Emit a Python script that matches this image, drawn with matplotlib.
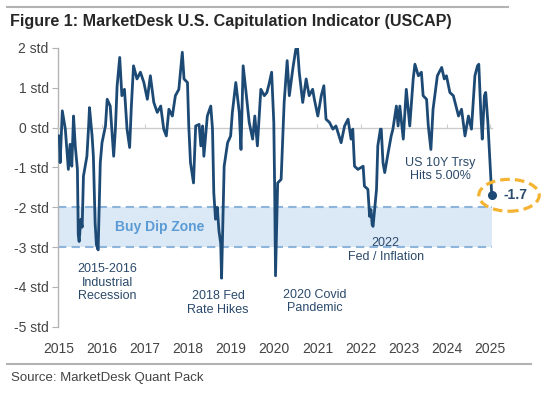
import matplotlib
matplotlib.use("Agg")
import matplotlib.pyplot as plt
from matplotlib.patches import Ellipse
from matplotlib.lines import Line2D

plt.rcParams['font.family'] = ['Liberation Sans', 'DejaVu Sans']

# USCAP readings (decimal year, std)
dates = [
    2015.02, 2015.04, 2015.09, 2015.16, 2015.23, 2015.27, 2015.31, 2015.35, 2015.39, 2015.44,
    2015.46, 2015.48, 2015.52, 2015.55, 2015.58, 2015.66, 2015.70, 2015.72, 2015.78, 2015.81,
    2015.85, 2015.88, 2015.92, 2015.97, 2016.01, 2016.09, 2016.13, 2016.20, 2016.28, 2016.32,
    2016.36, 2016.42, 2016.47, 2016.53, 2016.59, 2016.65, 2016.69, 2016.74, 2016.82, 2016.90,
    2016.98, 2017.06, 2017.13, 2017.21, 2017.29, 2017.37, 2017.44, 2017.50, 2017.56, 2017.64,
    2017.71, 2017.79, 2017.87, 2017.91, 2017.99, 2018.02, 2018.06, 2018.13, 2018.18, 2018.26,
    2018.30, 2018.34, 2018.37, 2018.45, 2018.53, 2018.57, 2018.60, 2018.64, 2018.68, 2018.72,
    2018.76, 2018.78, 2018.84, 2018.92, 2018.99, 2019.03, 2019.11, 2019.19, 2019.23, 2019.28,
    2019.34, 2019.42, 2019.50, 2019.55, 2019.61, 2019.69, 2019.77, 2019.83, 2019.88, 2019.94,
    2019.99, 2020.01, 2020.03, 2020.08, 2020.16, 2020.23, 2020.30, 2020.35, 2020.43, 2020.50,
    2020.54, 2020.58, 2020.66, 2020.74, 2020.81, 2020.89, 2020.93, 2021.01, 2021.09, 2021.15,
    2021.20, 2021.28, 2021.36, 2021.43, 2021.55, 2021.63, 2021.71, 2021.78, 2021.82, 2021.86,
    2021.94, 2022.06, 2022.09, 2022.17, 2022.21, 2022.24, 2022.27, 2022.29, 2022.37, 2022.40,
    2022.46, 2022.48, 2022.52, 2022.56, 2022.64, 2022.71, 2022.75, 2022.83, 2022.87, 2022.91,
    2022.99, 2023.06, 2023.14, 2023.22, 2023.26, 2023.34, 2023.41, 2023.45, 2023.53, 2023.57,
    2023.63, 2023.68, 2023.72, 2023.78, 2023.88, 2023.94, 2023.99, 2024.07, 2024.15, 2024.23,
    2024.27, 2024.34, 2024.42, 2024.50, 2024.57, 2024.65, 2024.71, 2024.74, 2024.79, 2024.82,
    2024.87, 2024.90, 2024.95, 2025.00, 2025.04,
]
uscap = [
    -0.21, -0.88, 0.42, -0.04, -1.05, -0.42, -0.97, 0.29, -0.46, -1.05,
    -2.70, -2.86, -2.30, -2.50, -1.22, -0.72, 0.04, 0.50, -0.21, -0.72,
    -2.39, -2.94, -3.07, -0.88, -0.38, 0.04, 0.71, 0.54, -0.72, -0.04,
    1.05, 1.76, 0.80, 0.96, -0.04, -0.50, 0.54, 1.55, 1.22, 1.39,
    1.13, 0.71, 1.30, 0.63, 0.38, 0.54, -0.04, -0.21, 0.46, 0.29,
    0.80, 0.96, 1.89, 1.22, 1.13, 0.04, -0.88, -1.39, 0.04, 0.08,
    -0.46, 0.04, -0.72, 0.29, 0.54, -0.04, -1.64, -2.30, -2.00, -2.60,
    -2.90, -3.78, -0.97, -0.38, -0.21, 0.38, 1.13, 0.38, -0.55, 1.55,
    0.96, 0.13, -0.29, 0.29, -0.46, 0.96, 0.80, 0.88, 1.09, 1.39,
    0.13, -1.50, -3.72, -1.39, -1.30, 0.63, 1.68, 0.80, 1.47, 1.97,
    2.00, 1.39, 0.63, 1.22, 0.80, 0.96, 0.71, 0.29, 0.80, 1.05,
    0.21, 0.13, -0.04, 0.04, -0.38, 0.04, 0.21, -0.29, -0.04, -0.97,
    -1.05, -0.97, -1.47, -1.55, -2.23, -2.06, -2.44, -2.48, -1.55, -0.46,
    -0.04, -0.04, -0.88, -1.13, -0.63, -0.21, -0.04, 0.54, 0.04, 0.54,
    -0.29, 0.96, 0.04, 1.22, 1.59, 1.30, 1.39, 0.80, 0.71, 0.04,
    -0.55, 0.46, 0.80, 1.30, 1.51, 1.22, 1.30, 0.88, 0.80, 0.46,
    0.29, 0.46, -0.21, 0.29, -0.04, 1.30, 1.55, 1.59, 0.29, -0.29,
    0.80, 0.88, 0.13, -0.88, -1.70,
]

years = list(range(2015, 2026))
year_labels = [str(y) for y in years]
std_ticks = [2, 1, 0, -1, -2, -3, -4, -5]
std_labels = [f"{t} std" for t in std_ticks]

zone_top, zone_bottom = -2, -3
latest = -1.7

annotations = [
    ("2015-2016\nIndustrial\nRecession", 2016.14, -3.89),
    ("2018 Fed\nRate Hikes", 2018.70, -4.40),
    ("2020 Covid\nPandemic", 2020.93, -4.37),
    ("2022\nFed / Inflation", 2022.58, -3.07),
    ("US 10Y Trsy\nHits 5.00%", 2023.85, -1.05),
]

line_color = "#1c4a75"
text_color = "#2b4a6b"
grey = "#b3b3b3"

fig = plt.figure(figsize=(5.46, 3.99), dpi=100)
ax = fig.add_axes([0.107, 0.181, 0.83, 0.699])

# buy dip zone
ax.fill_between([dates[0] - 0.02, dates[-1]], zone_bottom, zone_top,
                color="#dbe8f5", lw=0, zorder=0)
for lvl in (zone_top, zone_bottom):
    ax.plot([dates[0] - 0.02, dates[-1]], [lvl, lvl], ls=(0, (4, 2.5)),
            color="#8db5db", lw=1.5, zorder=1)
ax.text(2017.35, -2.5, "Buy Dip Zone", color="#5b9bd5", fontsize=10,
        fontweight="bold", ha="center", va="center")

ax.plot(dates, uscap, color=line_color, lw=2.0, zorder=3, solid_joinstyle="round")
ax.plot(dates[-1], uscap[-1], "o", color=line_color, ms=5.5, zorder=4)

for txt, x, y in annotations:
    ax.text(x, y, txt, ha="center", va="center", fontsize=9,
            color=text_color, linespacing=1.15)

# latest value callout
ax.text(2025.6, latest, f"{latest}", fontsize=10, fontweight="bold",
        color=text_color, ha="center", va="center", clip_on=False)
ell = Ellipse((2025.44, latest), 1.4, 0.8, fill=False, ec="#f4b331",
              lw=2.3, ls=(0, (3, 1.6)), clip_on=False, zorder=5)
ax.add_patch(ell)

ax.set_xlim(2015, 2025.5)
ax.set_ylim(-5, 2)

for s in ("top", "right"):
    ax.spines[s].set_visible(False)
ax.spines["left"].set_color(grey)
ax.spines["left"].set_linewidth(1.0)
ax.spines["bottom"].set_position(("data", 0))
ax.spines["bottom"].set_bounds(2015, dates[-1])
ax.spines["bottom"].set_color("#cccccc")
ax.spines["bottom"].set_linewidth(1.0)

ax.set_yticks(std_ticks)
ax.set_yticklabels(std_labels)
ax.tick_params(axis="y", length=4, color=grey, labelsize=10,
               labelcolor="#444444", pad=3)
ax.set_xticks(years)
ax.tick_params(axis="x", direction="in", length=3, color="#cccccc",
               labelbottom=False)

sec = ax.secondary_xaxis(0)
sec.set_xticks(years)
sec.set_xticklabels(year_labels)
sec.tick_params(length=0, labelsize=10, labelcolor="#444444", pad=11)
sec.spines["bottom"].set_visible(False)

fig.text(0.018, 0.945, "Figure 1: MarketDesk U.S. Capitulation Indicator (USCAP)",
         fontsize=11.6, fontweight="bold", color="#262626", va="center")
fig.text(0.02, 0.052, "Source: MarketDesk Quant Pack", fontsize=9.5,
         color="#444444", va="center")
fig.add_artist(Line2D([0.013, 0.93], [0.982, 0.982], color=grey, lw=1.5))
fig.add_artist(Line2D([0.013, 0.972], [0.088, 0.088], color=grey, lw=1.5))

fig.savefig("out.png", dpi=100)
